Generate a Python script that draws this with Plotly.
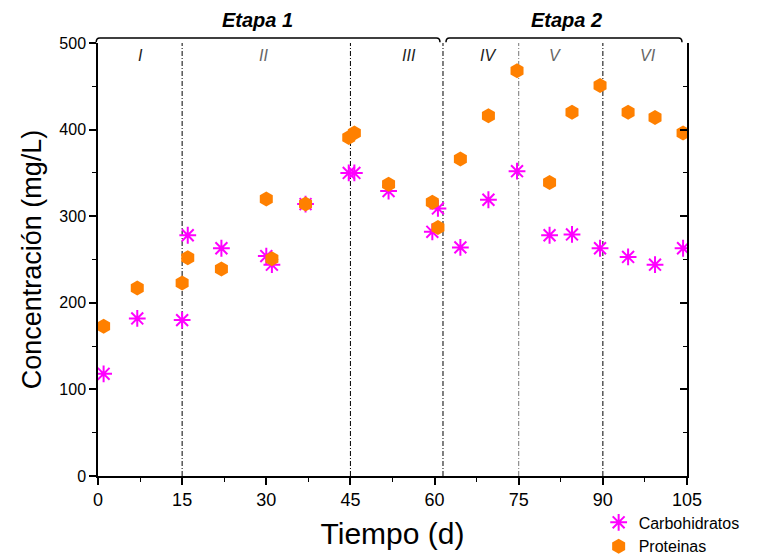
import plotly.graph_objects as go

# ---- data ----
dias = [1, 7, 15, 16, 22, 30, 31, 37, 44.7, 45.7, 51.8, 59.6, 60.6, 64.6, 69.6,
        74.7, 80.5, 84.5, 89.5, 94.5, 99.3, 104.3]
carbohidratos = [118, 182, 180, 278, 263, 254, 244, 314, 350, 350, 329, 282, 309,
                 264, 319, 352, 278, 279, 263, 253, 244, 263]
proteinas = [173, 217, 223, 252, 239, 320, 251, 314, 391, 396, 337, 316, 287,
             366, 416, 468, 339, 420, 451, 420, 414, 396]
x_ticks = [0, 15, 30, 45, 60, 75, 90, 105]
y_ticks = [0, 100, 200, 300, 400, 500]
divisiones = [15, 45, 61.5, 75, 90]
div_colors = ["#000000", "#000000", "#000000", "#777777", "#000000"]
fases = ["I", "II", "III", "IV", "V", "VI"]
fases_x = [7.5, 29.5, 55.5, 69.5, 81.5, 98]
fases_color = ["#222222", "#666666", "#222222", "#222222", "#666666", "#666666"]
etapas = ["Etapa 1", "Etapa 2"]
etapas_x = [28.5, 83.5]

narrow = "Liberation Sans Narrow, Arial Narrow, Liberation Sans, Arial"
sans = "Liberation Sans, Arial"

fig = go.Figure()
fig.add_trace(go.Scatter(
    x=dias, y=carbohidratos, mode="markers", name="Carbohidratos",
    marker=dict(symbol="asterisk-open", size=14, color="#FF00FF",
                line=dict(color="#FF00FF", width=2))))
fig.add_trace(go.Scatter(
    x=dias, y=proteinas, mode="markers", name="Proteinas",
    marker=dict(symbol="hexagon", size=15, color="#FF8000",
                line=dict(width=0))))
# dummy trace for right axis
fig.add_trace(go.Scatter(x=[], y=[], yaxis="y2", showlegend=False))

shapes = []
for d, c in zip(divisiones, div_colors):
    shapes.append(dict(type="line", xref="x", yref="y", x0=d, x1=d, y0=0, y1=500,
                       line=dict(color=c, width=1, dash="5px,2px,1px,2px"), layer="below"))

def bracket(x0, x1):
    y_top = 1.0115
    y_bot = 1.002
    dx = 0.006
    return dict(type="path", xref="paper", yref="paper",
                path=f"M {x0},{y_bot} Q {x0},{y_top} {x0+dx},{y_top} L {x1-dx},{y_top} "
                     f"Q {x1},{y_top} {x1},{y_bot}",
                line=dict(color="black", width=1.5))

shapes.append(bracket(-0.003, 0.5806))
shapes.append(bracket(0.5908, 0.9915))

annotations = []
for t, x in zip(etapas, etapas_x):
    annotations.append(dict(x=x, xref="x", y=1.053, yref="paper", yanchor="middle",
                            text=f"<b><i>{t}</i></b>", showarrow=False,
                            font=dict(family=sans, size=20, color="black")))
for t, x, c in zip(fases, fases_x, fases_color):
    annotations.append(dict(x=x, xref="x", y=0.972, yref="paper", yanchor="middle",
                            text=f"<i>{t}</i>", showarrow=False,
                            font=dict(family=sans, size=16, color=c)))

fig.update_layout(
    width=763, height=551,
    margin=dict(l=90, r=84, t=35, b=83, autoexpand=False),
    plot_bgcolor="white", paper_bgcolor="white",
    shapes=shapes, annotations=annotations,
    legend=dict(x=0.85, y=-0.068, xanchor="left", yanchor="top",
                font=dict(family=sans, size=16, color="black"),
                bgcolor="rgba(0,0,0,0)", tracegroupgap=0),
    xaxis=dict(range=[0, 105], tickvals=x_ticks, showgrid=False, zeroline=False,
               automargin=False,
               showline=True, linecolor="black", linewidth=1.5,
               ticks="outside", ticklen=7, tickwidth=1.5, tickcolor="black",
               minor=dict(dtick=7.5, tick0=0, ticks="outside", ticklen=4, tickwidth=1.2,
                          tickcolor="black"),
               tickfont=dict(family=narrow, size=18, color="black"),
               title=dict(text="Tiempo (d)", font=dict(family=narrow, size=30, color="black"),
                          standoff=14)),
    yaxis=dict(range=[0, 500], tickvals=y_ticks, showgrid=False, zeroline=False,
               automargin=False,
               showline=True, linecolor="black", linewidth=1.5,
               ticks="outside", ticklen=7, tickwidth=1.5, tickcolor="black",
               minor=dict(dtick=50, tick0=0, ticks="outside", ticklen=4, tickwidth=1.2,
                          tickcolor="black"),
               tickfont=dict(family=sans, size=16, color="black"),
               title=dict(text="Concentración (mg/L)",
                          font=dict(family=sans, size=27, color="black"), standoff=10)),
    yaxis2=dict(range=[0, 500], overlaying="y", side="right", tickvals=y_ticks,
                automargin=False,
                showgrid=False, zeroline=False, showline=True, linecolor="black",
                linewidth=1.5, ticks="inside", ticklen=7, tickwidth=1.5, tickcolor="black",
                minor=dict(dtick=50, tick0=0, ticks="inside", ticklen=4, tickwidth=1.2,
                           tickcolor="black"),
                showticklabels=False),
)

fig.write_html("out.html")
